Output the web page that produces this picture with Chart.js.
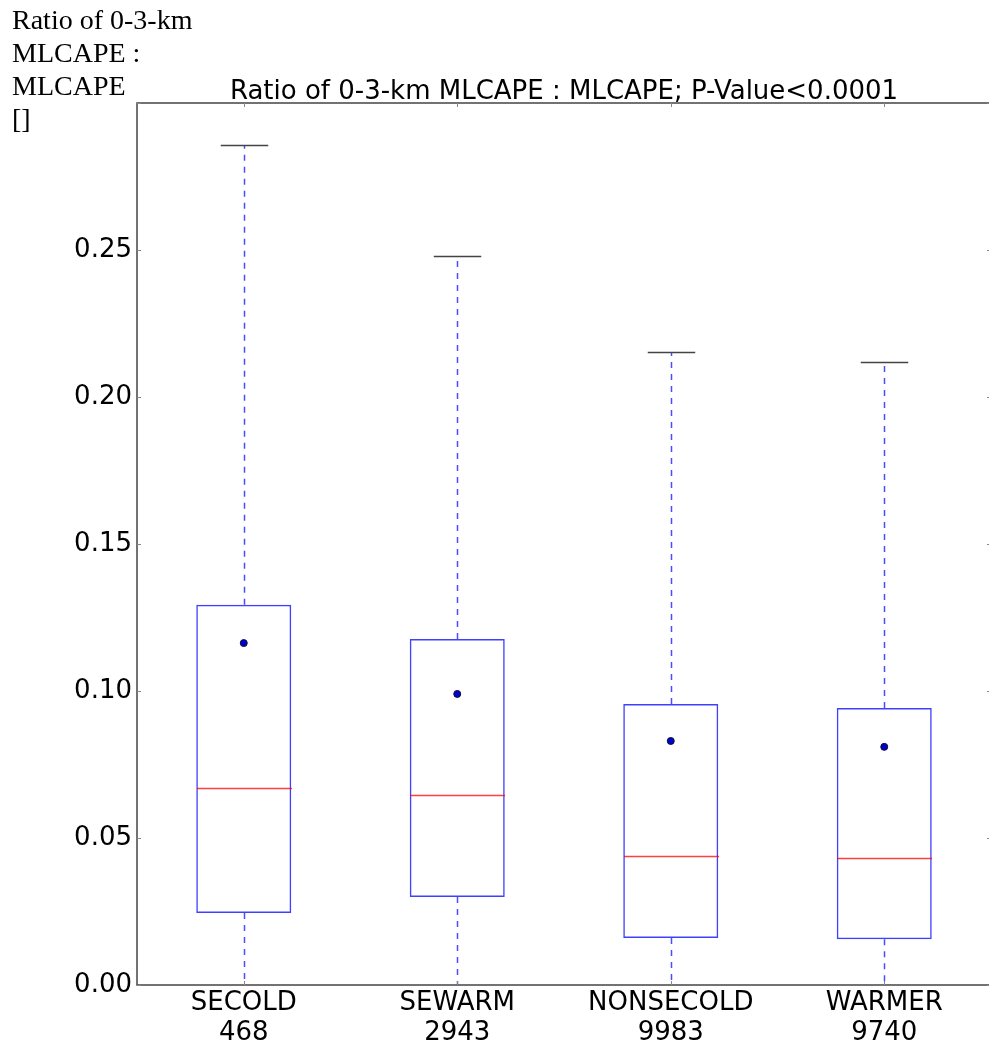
<!DOCTYPE html>
<html lang="en">
<head>
    <meta charset="UTF-8">
    <title>Ratio of 0-3-km MLCAPE : MLCAPE</title>
    <style>
        html, body { margin: 0; padding: 0; background: #fff; overflow: hidden; }
        #wrap { position: absolute; left: 0; top: 0; width: 996px; height: 1051px; }
        #unit {
            position: absolute; left: 12px; top: 3px; z-index: 2;
            font-family: "Liberation Serif", "DejaVu Serif", serif;
            font-size: 28px; line-height: 33px; color: #000;
        }
        #title {
            position: absolute; left: 364px; width: 400px; top: 75px; z-index: 2;
            text-align: center; white-space: nowrap;
            font-family: "DejaVu Sans", sans-serif; font-size: 26px; line-height: 30px; color: #000;
            display: flex; justify-content: center;
        }
    </style>
</head>
<body>

<div id="unit">Ratio of 0-3-km<br>MLCAPE :<br>MLCAPE<br>[]</div>
<div id="title">Ratio of 0-3-km MLCAPE : MLCAPE; P-Value&lt;0.0001</div>

<div id="wrap">
    <canvas id="myChart"></canvas>
</div>

<script src="https://cdn.jsdelivr.net/npm/chart.js"></script>

<script>
    const categories = ['SECOLD', 'SEWARM', 'NONSECOLD', 'WARMER'];
    const counts = ['468', '2943', '9983', '9740'];

    // box statistics
    const whiskerLow = [0.0, 0.0, 0.0, 0.0];
    const q1 = [0.0245, 0.0299, 0.0160, 0.0156];
    const median = [0.0670, 0.0646, 0.0439, 0.0432];
    const q3 = [0.1293, 0.1177, 0.0956, 0.0942];
    const whiskerHigh = [0.2857, 0.2480, 0.2153, 0.2119];
    const mean = [0.1163, 0.0990, 0.0830, 0.0810];

    const ctx = document.getElementById('myChart');

    // whiskers, caps, medians and the frame with inward ticks
    const boxExtras = {
        id: 'boxExtras',
        afterDatasetsDraw(chart) {
            const c = chart.ctx;
            const xs = chart.scales.x;
            const ys = chart.scales.y;
            const area = chart.chartArea;
            const boxW = chart.getDatasetMeta(0).data[0].width;

            c.save();
            for (let i = 0; i < categories.length; i++) {
                const x = Math.round(xs.getPixelForValue(i)) + 0.5;
                // dashed whiskers
                c.strokeStyle = 'rgba(0,0,255,0.7)';
                c.lineWidth = 1.5;
                c.setLineDash([6, 6]);
                c.beginPath();
                c.moveTo(x, ys.getPixelForValue(q3[i]));
                c.lineTo(x, ys.getPixelForValue(whiskerHigh[i]));
                c.moveTo(x, ys.getPixelForValue(q1[i]));
                c.lineTo(x, ys.getPixelForValue(whiskerLow[i]));
                c.stroke();
                c.setLineDash([]);

                // caps
                c.strokeStyle = '#444';
                c.lineWidth = 1.5;
                c.beginPath();
                const yh = Math.round(ys.getPixelForValue(whiskerHigh[i])) + 0.5;
                c.moveTo(x - boxW / 4, yh);
                c.lineTo(x + boxW / 4, yh);
                c.stroke();

                // median
                c.strokeStyle = 'rgba(255,0,0,0.75)';
                c.lineWidth = 1.5;
                const ym = Math.round(ys.getPixelForValue(median[i])) + 0.5;
                c.beginPath();
                c.moveTo(x - boxW / 2, ym);
                c.lineTo(x + boxW / 2, ym);
                c.stroke();
            }

            // frame
            c.strokeStyle = '#444';
            c.lineWidth = 1.5;
            c.strokeRect(area.left, area.top, area.right - area.left, area.bottom - area.top);

            // inward tick marks
            c.strokeStyle = '#888';
            c.lineWidth = 1;
            c.beginPath();
            ys.ticks.forEach(t => {
                const y = Math.round(ys.getPixelForValue(t.value)) + 0.5;
                c.moveTo(area.left, y);
                c.lineTo(area.left + 4, y);
                c.moveTo(area.right, y);
                c.lineTo(area.right - 4, y);
            });
            for (let i = 0; i < categories.length; i++) {
                const x = Math.round(xs.getPixelForValue(i)) + 0.5;
                c.moveTo(x, area.top);
                c.lineTo(x, area.top + 4);
                c.moveTo(x, area.bottom);
                c.lineTo(x, area.bottom - 4);
            }
            c.stroke();
            c.restore();
        }
    };

    const config = {
        type: 'bar',
        data: {
            labels: categories.map((c, i) => [c, counts[i]]),
            datasets: [
                {
                    type: 'bar',
                    data: q1.map((v, i) => [v, q3[i]]),
                    backgroundColor: 'rgba(255,255,255,0)',
                    borderColor: 'rgba(0,0,255,0.75)',
                    borderWidth: 1.5,
                    borderSkipped: false,
                    barPercentage: 0.445,
                    categoryPercentage: 1,
                    order: 2
                },
                {
                    type: 'line',
                    data: mean,
                    showLine: false,
                    pointRadius: 3.5,
                    pointBackgroundColor: '#0000d0',
                    pointBorderColor: '#101030',
                    pointBorderWidth: 1,
                    order: 1
                }
            ]
        },
        options: {
            responsive: false,
            animation: false,
            layout: {
                padding: { left: 0, right: 2, top: 103, bottom: 0 }
            },
            plugins: {
                legend: { display: false },
                tooltip: { enabled: false },
                title: { display: false }
            },
            scales: {
                x: {
                    grid: { display: false, drawTicks: false, tickLength: 0 },
                    border: { display: false },
                    ticks: {
                        color: '#000',
                        padding: 3,
                        maxRotation: 0,
                        font: { family: '"DejaVu Sans", sans-serif', size: 26, lineHeight: 1.15 }
                    },
                    afterFit(scale) { scale.height = 66; }
                },
                y: {
                    min: 0,
                    max: 0.3,
                    grid: { display: false, drawTicks: false, tickLength: 0 },
                    border: { display: false },
                    ticks: {
                        stepSize: 0.05,
                        color: '#000',
                        padding: 5,
                        font: { family: '"DejaVu Sans", sans-serif', size: 26 },
                        callback: v => (v > 0.26 ? '' : v.toFixed(2))
                    },
                    afterFit(scale) { scale.width = 137; }
                }
            }
        },
        plugins: [boxExtras]
    };

    ctx.width = 996;
    ctx.height = 1051;
    new Chart(ctx, config);
</script>

</body>
</html>
